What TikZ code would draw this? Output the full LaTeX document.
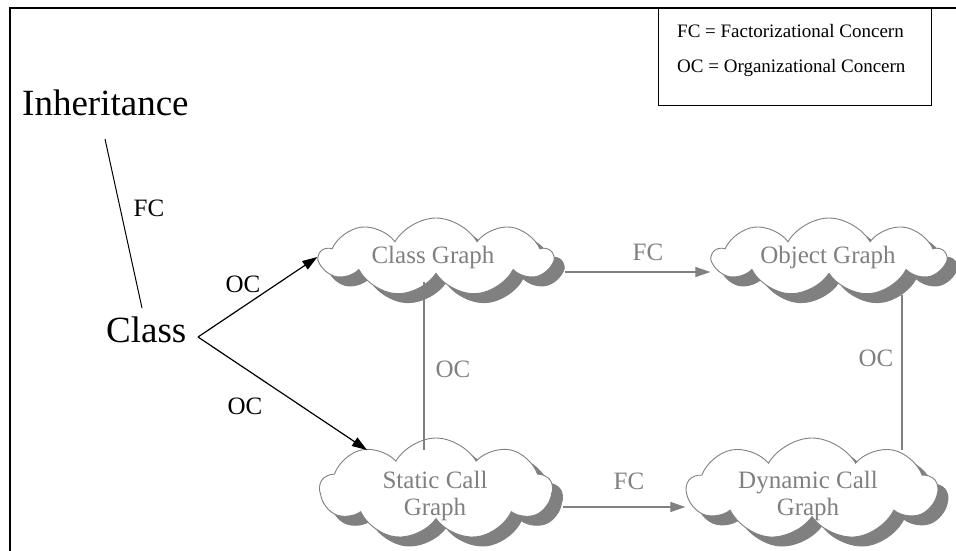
\documentclass[tikz,border=0pt]{standalone}
\usepackage{fontspec}
\setmainfont{Liberation Serif}
\usetikzlibrary{shapes.symbols,arrows.meta,calc}
\definecolor{lgray}{HTML}{808080}
\definecolor{sgray}{HTML}{808080}
\tikzset{
  bigtxt/.style={font=\fontsize{37}{40}\selectfont, inner sep=0pt},
  midtxt/.style={font=\fontsize{25}{27}\selectfont, inner sep=0pt},
  legtxt/.style={font=\fontsize{19}{21}\selectfont, inner sep=0pt, anchor=base west},
  cloudbody/.style={cloud, cloud puffs=9, cloud puff arc=120, draw=lgray, fill=white, line width=0.9pt, inner sep=0pt},
  cloudshade/.style={cloud, cloud puffs=9, cloud puff arc=120, fill=sgray, draw=sgray, line width=0.9pt, inner sep=0pt},
  blackarrow/.style={line width=1.2pt, -{Triangle[length=15pt,width=10pt]}},
  grayarrow/.style={draw=lgray, line width=1.2pt, -{Triangle[length=15pt,width=10pt]}, color=lgray},
  grayline/.style={draw=lgray, line width=1.2pt},
}
\begin{document}
\begin{tikzpicture}[x=1pt,y=-1pt]
\useasboundingbox (0,0) rectangle (956,551);
% frame
\draw[line width=2.2pt] (10,552) -- (10,8) -- (957,8);
% legend
\node[draw, line width=0.9pt, minimum width=273pt, minimum height=97pt, inner sep=0pt] (legend) at (794.5,56.5) {};
\node[legtxt] (leg1) at (677,38) {FC = Factorizational Concern};
\node[legtxt] (leg2) at (677,73) {OC = Organizational Concern};

% left texts
\node[bigtxt, anchor=base west] (inh) at (22,115) {Inheritance};
\node[bigtxt, anchor=base west] (cls) at (106,342) {Class};
\coordinate (inhend) at (105,139);
\coordinate (clsend) at (142,308);
\coordinate (clsv) at (198,337);
\draw[line width=1pt] (inhend) -- (clsend);
\node[midtxt] (fc1) at (149,208) {FC};

% clouds shadows
\node[cloudshade, minimum width=232pt, minimum height=78pt, aspect=3.2] (cgs) at (446,266) {};
\node[cloudshade, minimum width=232pt, minimum height=78pt, aspect=3.2] (ogs) at (839,266) {};
\node[cloudshade, minimum width=232pt, minimum height=102pt, aspect=2.4] (scs) at (446,498) {};
\node[cloudshade, minimum width=250pt, minimum height=102pt, aspect=2.5] (dcs) at (822,498) {};
% clouds
\node[cloudbody, minimum width=232pt, minimum height=78pt, aspect=3.2] (cg) at (436,257) {};
\node[cloudbody, minimum width=232pt, minimum height=78pt, aspect=3.2] (og) at (829,257) {};
\node[cloudbody, minimum width=232pt, minimum height=102pt, aspect=2.4] (sc) at (436,489) {};
\node[cloudbody, minimum width=250pt, minimum height=102pt, aspect=2.5] (dc) at (812,489) {};
% cloud texts
\node[midtxt, text=lgray, anchor=base] (cgt) at (433,263) {Class Graph};
\node[midtxt, text=lgray, anchor=base] (ogt) at (828,263) {Object Graph};
\node[midtxt, text=lgray, align=center] (sct) at (435,496) {Static Call\\Graph};
\node[midtxt, text=lgray, align=center] (dct) at (808,496) {Dynamic Call\\Graph};

% black arrows from Class
\draw[blackarrow] (clsv) -- (cg.west);
\draw[blackarrow] (clsv) -- (367,450);
\node[midtxt] (oc1) at (243,284) {OC};
\node[midtxt] (oc2) at (245,406) {OC};

% gray connectors
\draw[grayarrow] (cgs.east |- 0,272) -- (og.west |- 0,272);
\node[midtxt, text=lgray] (fc2) at (648,252) {FC};
\draw[grayline] (424,282) -- (424,450);
\node[midtxt, text=lgray] (oc3) at (453,369) {OC};
\draw[grayline] (902,295) -- (902,450);
\node[midtxt, text=lgray] (oc4) at (876,358) {OC};
\draw[grayarrow] (scs.east |- 0,507) -- (dc.west |- 0,507);
\node[midtxt, text=lgray] (fc3) at (629,481) {FC};
\end{tikzpicture}
\end{document}
